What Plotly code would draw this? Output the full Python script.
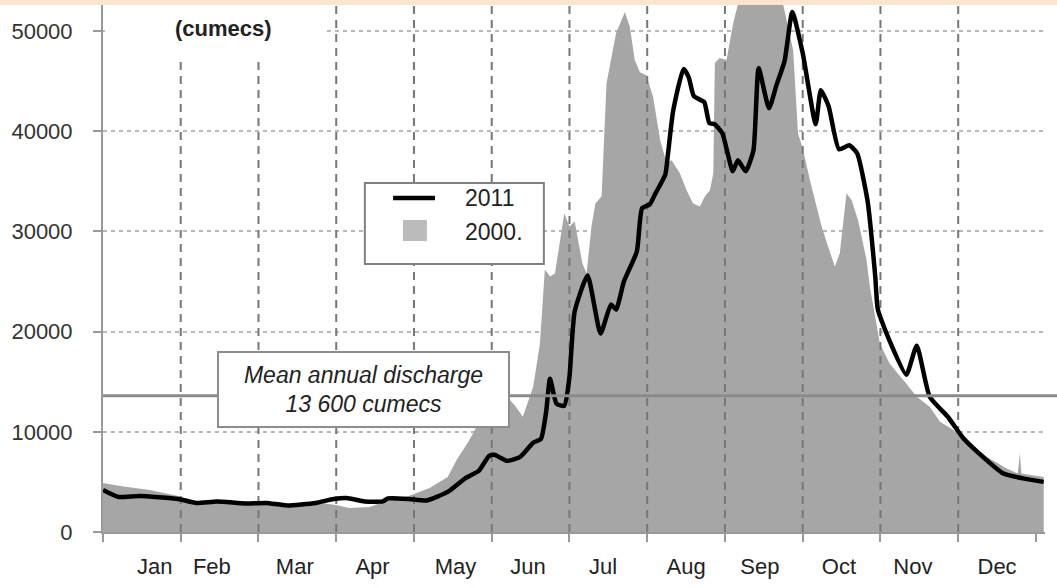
import plotly.graph_objects as go

# day of year (0 = 1 Jan) and discharge in cumecs
days_2011 = [0, 6, 14, 29, 36, 44, 55, 63, 71, 82, 89, 94, 101, 108, 110, 118, 125,
             133, 140, 145, 149, 151, 156, 161, 166, 169, 171, 172.5, 175, 178, 180,
             182, 187, 192, 196, 198, 201, 206, 208, 211, 213, 217, 218, 220, 224,
             226, 228, 232, 234, 236, 239, 243, 245, 248, 251, 253, 257, 260, 263,
             266, 270, 275, 277, 280, 284, 288, 291, 295, 298, 299, 304, 310, 314,
             319, 326, 332, 338, 347, 355, 363]
flow_2011 = [4200, 3500, 3600, 3300, 2900, 3050, 2850, 2900, 2650, 2900, 3300, 3400,
             3050, 3050, 3350, 3300, 3150, 4000, 5400, 6100, 7600, 7700, 7100, 7500,
             8900, 9300, 12000, 15300, 12800, 12600, 15500, 22000, 25600, 19800,
             22700, 22200, 25000, 28000, 32300, 32700, 33700, 35700, 37700, 42000,
             46200, 45400, 43500, 42900, 40800, 40700, 39800, 36000, 37100, 36000,
             38100, 46300, 42300, 44700, 47000, 51900, 47800, 40700, 44100, 42500,
             38200, 38600, 37800, 33100, 25500, 22200, 18800, 15700, 18600, 13500,
             11500, 9350, 7850, 5900, 5350, 5000]

days_2000 = [0, 6.6, 18, 29, 37, 49, 61, 72, 84, 90, 95, 103, 109, 118, 126, 133,
             136.5, 141, 145, 151, 157, 159, 162, 166, 168.6, 170.5, 172.5, 174.4,
             178, 180, 182, 185, 186.6, 188.5, 190, 192.4, 194.3, 198, 201.4, 203.3,
             205.2, 207.2, 209.7, 212.3, 215, 217.5, 219.4, 222.6, 225.2, 227.7,
             230.3, 232.3, 234.2, 235.5, 236.1, 238, 240.6, 243.2, 245.8, 249.6,
             253.5, 259.3, 262.5, 266.3, 268.2, 270.2, 272.8, 274.7, 277.3, 279.8,
             282.4, 284.3, 286.9, 288.9, 291.4, 294.6, 295.9, 299.8, 303.6, 310,
             314, 319, 323, 328, 332, 341, 348.7, 353, 353.8, 354.4, 363]
flow_2000 = [4900, 4600, 4200, 3600, 3000, 3000, 2900, 2800, 2900, 2700, 2400, 2500,
             3100, 3600, 4400, 5500, 7200, 9000, 10900, 12300, 13200, 12600, 11500,
             14500, 18800, 26200, 25500, 25800, 31800, 30500, 31000, 26800, 25800,
             30500, 32800, 33500, 44800, 49800, 51900, 50400, 47100, 45900, 45600,
             43400, 39100, 36800, 37100, 35800, 34100, 32800, 32500, 33500, 34100,
             35800, 46800, 47300, 47100, 50800, 53500, 55000, 56000, 55000, 52600,
             48100, 39800, 38100, 35100, 33100, 30500, 28500, 26500, 27800, 33800,
             33100, 31100, 27200, 24500, 18800, 16800, 14800, 13500, 12500, 11000,
             10200, 9350, 7500, 6350, 5850, 7850, 5850, 5500]

mean_discharge = 13600
boundary_days = [30, 60, 90, 120, 150, 180, 210, 240, 270, 300, 330]
tick_days = [0, 30, 60, 90, 120, 150, 180, 210, 240, 270, 300, 330, 360]
month_labels = ["Jan", "Feb", "Mar", "Apr", "May", "Jun",
                "Jul", "Aug", "Sep", "Oct", "Nov", "Dec"]
label_days = [20, 42, 74, 104, 136, 164, 193, 225, 253.5, 284, 312.5, 345]

Y_MAX = 52600
FONT = "Liberation Sans, Arial, sans-serif"
TXT = "#222222"

fig = go.Figure()

fig.add_trace(go.Scatter(
    x=days_2000, y=flow_2000, name="2000.", mode="lines",
    line=dict(width=0, color="#a6a6a6"), fill="tozeroy", fillcolor="#a6a6a6",
    showlegend=False,
))

# month separators, drawn over the grey area but under the 2011 line
vx, vy = [], []
for d in boundary_days:
    vx += [d, d, None]
    vy += [0, Y_MAX, None]
fig.add_trace(go.Scatter(
    x=vx, y=vy, mode="lines", showlegend=False, hoverinfo="skip",
    line=dict(color="#777777", width=2, dash="8px,6px"),
))

fig.add_trace(go.Scatter(
    x=days_2011, y=flow_2011, name="2011", mode="lines",
    line=dict(color="black", width=4.5, shape="spline", smoothing=0.5),
    showlegend=False,
))

# mean annual discharge line, runs a little past the plot edge
fig.add_shape(type="line", xref="paper", yref="y", x0=0, x1=1.013,
              y0=mean_discharge, y1=mean_discharge,
              line=dict(color="#8a8a8a", width=3), layer="above")

# white block behind the axis title, as in the original
fig.add_shape(type="rect", xref="paper", yref="paper", x0=0.002, x1=0.235,
              y0=0.9, y1=1.0, fillcolor="white", line=dict(width=0), layer="above")

# peach strip along the very top of the picture
fig.add_shape(type="rect", xref="paper", yref="paper", x0=-0.12, x1=1.02,
              y0=1.0, y1=1.012, fillcolor="#fde3d2", line=dict(width=0), layer="above")

# legend box
fig.add_shape(type="rect", xref="paper", yref="paper", x0=0.278, x1=0.468,
              y0=0.5085, y1=0.6622, fillcolor="white",
              line=dict(color="#808080", width=2), layer="above")
fig.add_shape(type="line", xref="paper", yref="paper", x0=0.308, x1=0.3524,
              y0=0.6338, y1=0.6338, line=dict(color="black", width=4.5), layer="above")
fig.add_shape(type="rect", xref="paper", yref="paper", x0=0.3185, x1=0.3439,
              y0=0.5522, y1=0.592, fillcolor="#bbbbbb", line=dict(width=0), layer="above")
fig.add_annotation(x=0.382, y=0.6338, xref="paper", yref="paper", text="2011",
                   showarrow=False, xanchor="left",
                   font=dict(family=FONT, size=23, color=TXT))
fig.add_annotation(x=0.382, y=0.5693, xref="paper", yref="paper", text="2000.",
                   showarrow=False, xanchor="left",
                   font=dict(family=FONT, size=23, color=TXT))

fig.add_annotation(x=100.5, y=14200, xref="x", yref="y",
                   text="<i>Mean annual discharge<br>13 600 cumecs</i>",
                   showarrow=False, font=dict(family=FONT, size=23, color=TXT),
                   bgcolor="white", bordercolor="#8c8c8c", borderwidth=2,
                   width=287, height=71, align="center")

fig.add_annotation(x=46.5, y=50300, xref="x", yref="y", text="<b>(cumecs)</b>",
                   showarrow=False, font=dict(family=FONT, size=22, color=TXT))
fig.add_annotation(x=46.5, y=53250, xref="x", yref="y", text="<b>Discharge</b>",
                   showarrow=False, font=dict(family=FONT, size=22, color=TXT))

fig.update_xaxes(
    range=[0, 363.5], showgrid=False, zeroline=False, automargin=False,
    showline=True, linecolor="#999999", linewidth=2,
    tickmode="array", tickvals=label_days, ticktext=month_labels,
    ticks="", ticklabelstandoff=14,
    tickfont=dict(family=FONT, size=22, color=TXT),
    minor=dict(tickmode="array", tickvals=tick_days, ticks="outside",
               ticklen=8, tickwidth=1.5, tickcolor="#999999", showgrid=False),
)
fig.update_yaxes(
    range=[0, Y_MAX], tickmode="array", tickvals=[0, 10000, 20000, 30000, 40000, 50000],
    tickformat="d", showline=True, linecolor="#999999", linewidth=2,
    ticks="outside", ticklen=8, tickwidth=1.5, tickcolor="#999999",
    ticklabelstandoff=16, zeroline=False, automargin=False,
    showgrid=True, gridcolor="#b8b8b8", gridwidth=1.5, griddash="4px,4px",
    tickfont=dict(family=FONT, size=22, color="#333333"),
)

fig.update_layout(
    width=1057, height=588,
    margin=dict(l=103, r=12, t=5, b=56, autoexpand=False),
    plot_bgcolor="white", paper_bgcolor="white",
    font=dict(family=FONT),
    showlegend=False,
    hovermode=False,
)

# the page body has a default 8px margin; drop it so the figure sits at 0,0
fig.write_html("out.html", config={"displayModeBar": False},
               post_script="document.body.style.margin='0';")
